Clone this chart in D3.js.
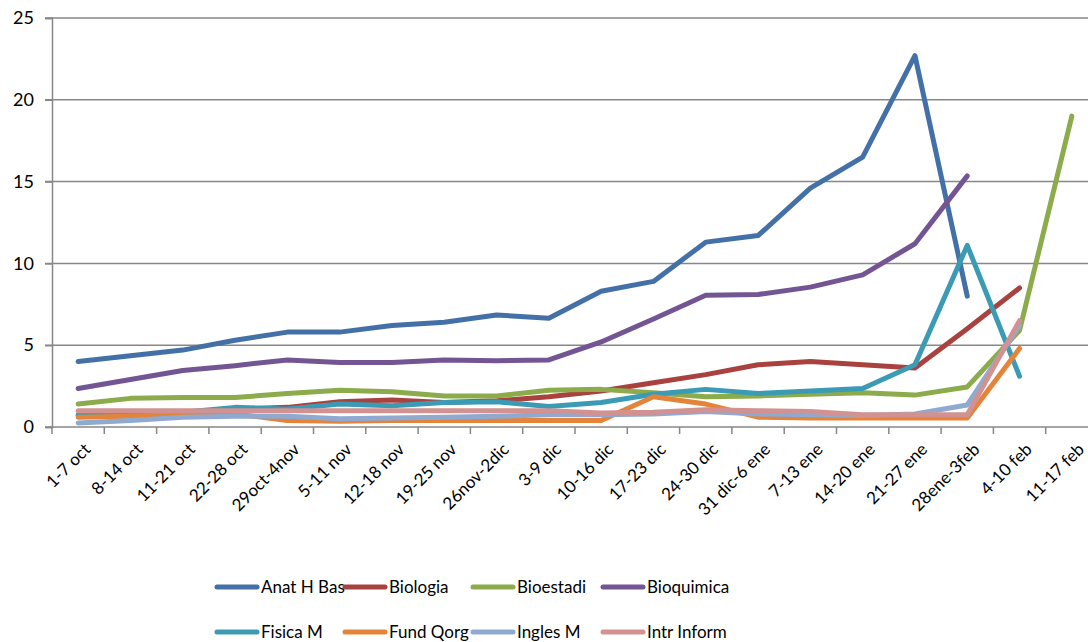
<!DOCTYPE html>
<html>
<head>
<meta charset="utf-8">
<script src="https://cdn.jsdelivr.net/npm/d3@7"></script>
<style>
  body { margin: 0; background: #fff; }
  text { font-family: Lato, "Liberation Sans", sans-serif; fill: #000; }
</style>
</head>
<body>
<svg id="chart" width="1088" height="642"></svg>
<script>
// Week labels on the x axis
const weeks = ['1-7 oct', '8-14 oct', '11-21 oct', '22-28 oct', '29oct-4nov', '5-11 nov',
    '12-18 nov', '19-25 nov', '26nov-2dic', '3-9 dic', '10-16 dic', '17-23 dic', '24-30 dic',
    '31 dic-6 ene', '7-13 ene', '14-20 ene', '21-27 ene', '28ene-3feb', '4-10 feb', '11-17 feb'];

const yTicks = [0, 5, 10, 15, 20, 25];

const seriesNames = ['Anat H Bas', 'Biologia', 'Bioestadi', 'Bioquimica',
    'Fisica M', 'Fund Qorg', 'Ingles M', 'Intr Inform'];

// Values per week, null where the series has no value
const anatHBas   = [4.0, 4.35, 4.7, 5.3, 5.8, 5.8, 6.2, 6.4, 6.85, 6.65, 8.3, 8.9, 11.3, 11.7, 14.6, 16.5, 22.7, 8.0, null, null];
const biologia   = [0.7, 0.8, 0.9, 1.1, 1.2, 1.55, 1.65, 1.5, 1.6, 1.85, 2.2, 2.7, 3.2, 3.8, 4.0, 3.8, 3.6, 6.0, 8.5, null];
const bioestadi  = [1.4, 1.75, 1.8, 1.8, 2.05, 2.25, 2.15, 1.9, 1.9, 2.25, 2.3, 2.1, 1.85, 1.9, 2.0, 2.1, 1.95, 2.45, 5.9, 19.0];
const bioquimica = [2.35, 2.9, 3.45, 3.75, 4.1, 3.95, 3.95, 4.1, 4.05, 4.1, 5.2, 6.6, 8.05, 8.1, 8.55, 9.3, 11.2, 15.35, null, null];
const fisicaM    = [0.75, 0.8, 0.9, 1.2, 1.1, 1.4, 1.3, 1.5, 1.55, 1.25, 1.5, 2.0, 2.3, 2.05, 2.2, 2.35, 3.8, 11.1, 3.1, null];
const fundQorg   = [0.6, 0.65, 0.75, 0.8, 0.4, 0.35, 0.4, 0.4, 0.4, 0.4, 0.4, 1.85, 1.4, 0.6, 0.55, 0.55, 0.55, 0.55, 4.8, null];
const inglesM    = [0.25, 0.4, 0.6, 0.65, 0.65, 0.5, 0.55, 0.6, 0.65, 0.75, 0.75, 0.8, 0.95, 0.8, 0.75, 0.7, 0.8, 1.35, 6.2, null];
const intrInform = [1.0, 1.0, 1.0, 1.0, 1.0, 1.0, 1.0, 1.0, 1.0, 1.0, 0.85, 0.9, 1.05, 1.0, 0.95, 0.75, 0.75, 0.75, 6.5, null];

const seriesValues = [anatHBas, biologia, bioestadi, bioquimica, fisicaM, fundQorg, inglesM, intrInform];
const colors = ['#4470a8', '#a9413e', '#8cab4b', '#735593', '#3b9bb4', '#e4843b', '#8fa9d1', '#d29291'];

const svg = d3.select('#chart');
const constants = {
    LEFT: 52,      // y axis position
    RIGHT: 1098,   // plot keeps going past the picture edge
    TOP: 18,
    BOTTOM: 427
};

const x = d3.scaleBand().domain(weeks).range([constants.LEFT, constants.RIGHT]).padding(0);
const y = d3.scaleLinear().domain([0, 25]).range([constants.BOTTOM, constants.TOP]);

// Gridlines + y ticks
svg.append('g')
    .selectAll('line')
    .data(yTicks.filter(d => d > 0))
    .join('line')
    .attr('x1', constants.LEFT - 7)
    .attr('x2', constants.RIGHT)
    .attr('y1', d => y(d))
    .attr('y2', d => y(d))
    .attr('stroke', '#878787')
    .attr('stroke-width', 1.5);

const yAxis = svg.append('g')
    .attr('transform', `translate(${constants.LEFT},0)`)
    .call(d3.axisLeft(y).tickValues(yTicks).tickSize(7).tickPadding(11));
yAxis.select('.domain').attr('stroke', '#878787').attr('stroke-width', 1.5);
yAxis.selectAll('.tick line').attr('stroke', '#878787').attr('stroke-width', 1.5);
yAxis.selectAll('.tick text').style('font-size', '18px').style('font-family', 'Lato, sans-serif');

// x axis: line, boundary ticks and rotated labels
const xAxis = svg.append('g').attr('transform', `translate(0,${constants.BOTTOM})`);
xAxis.append('line')
    .attr('x1', constants.LEFT - 7).attr('x2', constants.RIGHT)
    .attr('stroke', '#878787').attr('stroke-width', 1.5);
xAxis.selectAll('line.tick')
    .data(weeks.map(w => x(w)).concat([constants.RIGHT]))
    .join('line')
    .attr('class', 'tick')
    .attr('x1', d => d).attr('x2', d => d)
    .attr('y1', 0).attr('y2', 7)
    .attr('stroke', '#878787').attr('stroke-width', 1.5);
xAxis.selectAll('text')
    .data(weeks)
    .join('text')
    .attr('transform', d => `translate(${x(d) + x.bandwidth() / 2 + 5},${15}) rotate(-45)`)
    .attr('text-anchor', 'end')
    .attr('dy', '0.7em')
    .style('font-size', '17px')
    .text(d => d);

// Lines
const line = d3.line()
    .defined(d => d.v !== null)
    .x(d => x(d.w) + x.bandwidth() / 2)
    .y(d => y(d.v));

svg.append('g')
    .selectAll('path')
    .data(seriesValues.map((vals, i) => ({ name: seriesNames[i], color: colors[i],
        pts: vals.map((v, j) => ({ w: weeks[j], v: v })) })))
    .join('path')
    .attr('d', d => line(d.pts))
    .attr('fill', 'none')
    .attr('stroke', d => d.color)
    .attr('stroke-width', 5)
    .attr('stroke-linejoin', 'round')
    .attr('stroke-linecap', 'round');

// Legend, 4 per row
const legendCols = [217, 345, 473, 603];
const legendRows = [587, 632];
const legend = svg.append('g')
    .selectAll('g')
    .data(seriesNames)
    .join('g')
    .attr('transform', (d, i) => `translate(${legendCols[i % 4]},${legendRows[Math.floor(i / 4)]})`);
legend.append('line')
    .attr('x1', 0).attr('x2', 40)
    .attr('stroke', (d, i) => colors[i])
    .attr('stroke-width', 5)
    .attr('stroke-linecap', 'round');
legend.append('text')
    .attr('x', 44)
    .attr('dy', '0.35em')
    .style('font-size', '17px')
    .text(d => d);
</script>
</body>
</html>
